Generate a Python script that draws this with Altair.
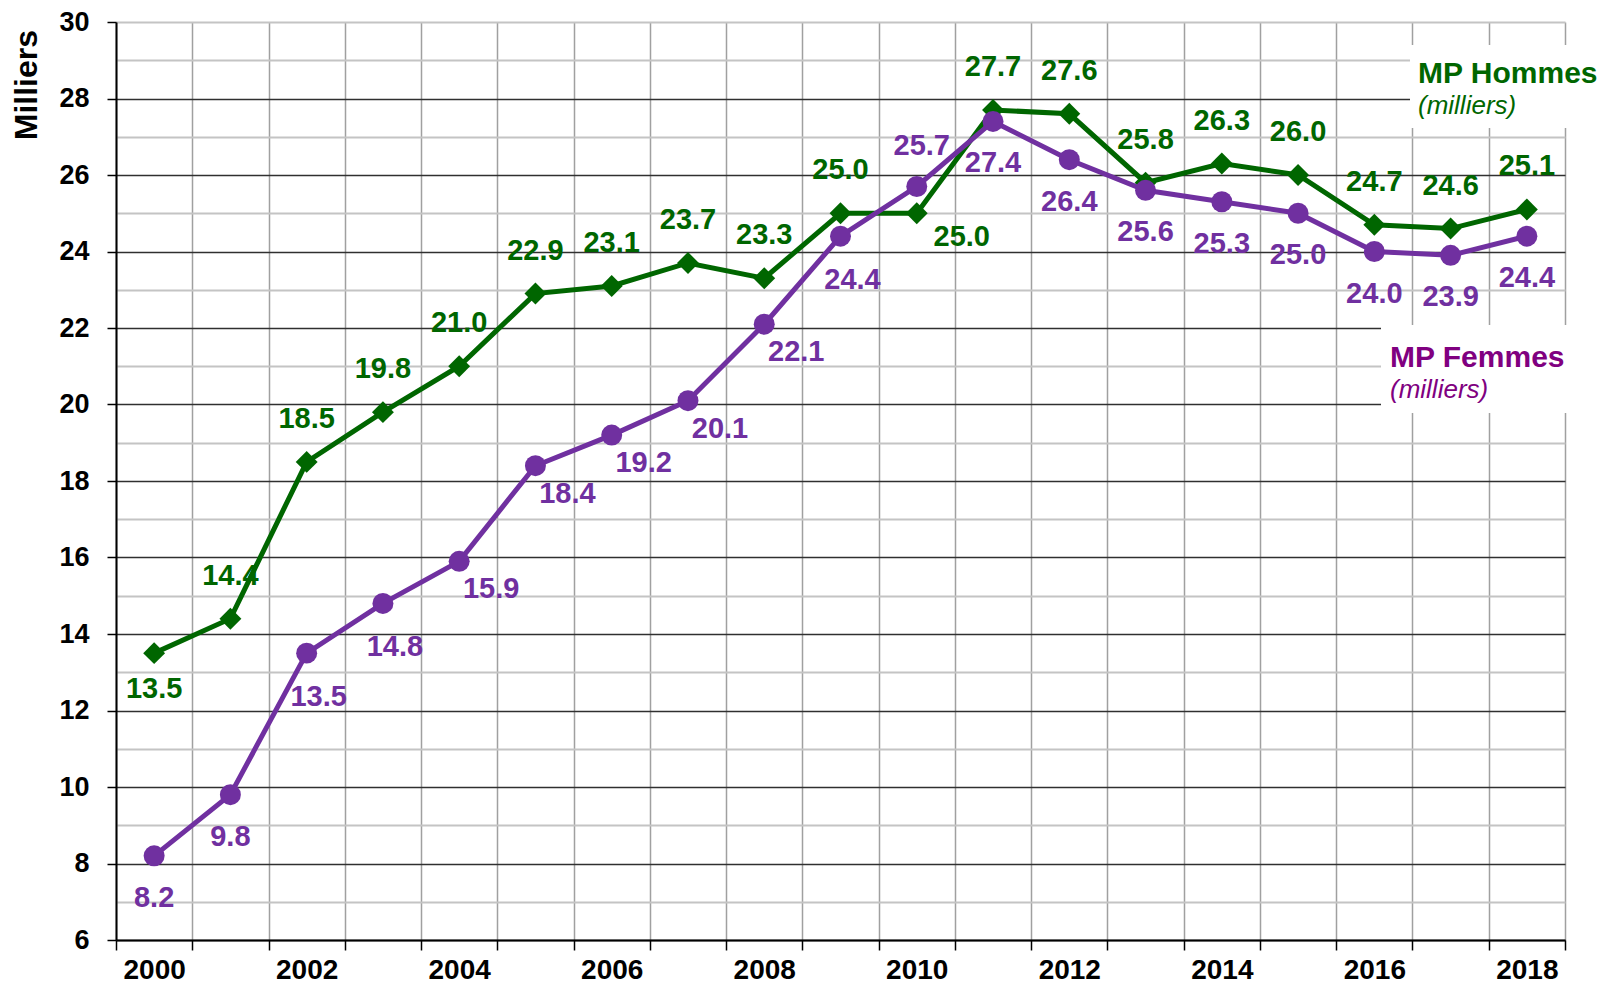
import altair as alt
import pandas as pd

years = list(range(2000, 2019))
hommes = [13.5, 14.4, 18.5, 19.8, 21.0, 22.9, 23.1, 23.7, 23.3, 25.0, 25.0,
          27.7, 27.6, 25.8, 26.3, 26.0, 24.7, 24.6, 25.1]
femmes = [8.2, 9.8, 13.5, 14.8, 15.9, 18.4, 19.2, 20.1, 22.1, 24.4, 25.7,
          27.4, 26.4, 25.6, 25.3, 25.0, 24.0, 23.9, 24.4]

GREEN = "#006600"
PURPLE = "#7030A0"
LEG_PURPLE = "#800080"
LABEL_FONT = "Liberation Sans, Arial, sans-serif"
AXIS_FONT = "Liberation Sans, Arial, sans-serif"

df = pd.DataFrame(
    {"year": years * 2,
     "value": hommes + femmes,
     "serie": ["H"] * len(years) + ["F"] * len(years)}
)

minor_vals = [6 + 0.5 * i for i in range(49)]

x_enc = alt.X(
    "year:O",
    scale=alt.Scale(type="band", paddingInner=0, paddingOuter=0),
    axis=alt.Axis(
        title=None, tickBand="extent", labelAngle=0, labelOverlap=False,
        labelExpr="datum.value % 2 === 0 ? datum.label : ''",
        labelFont=AXIS_FONT, labelFontSize=28, labelFontWeight="bold", labelColor="black",
        labelPadding=6, labelBaseline="top",
        tickSize=10, tickColor="black", tickWidth=1.5,
        domainColor="black", domainWidth=2,
        grid=True, gridColor="#a0a0a0", gridWidth=1.5,
    ),
)

y_enc = alt.Y(
    "value:Q",
    scale=alt.Scale(domain=[6, 30], nice=False, zero=False),
    axis=alt.Axis(
        title=None, values=minor_vals, format="d",
        labelExpr="datum.value % 2 === 0 ? datum.label : ''",
        labelFont=AXIS_FONT, labelFontSize=27, labelFontWeight="bold", labelColor="black",
        labelPadding=18,
        tickSize=9, tickColor="black", tickWidth=1.5,
        tickOpacity={"condition": {"test": "datum.value % 2 === 0", "value": 1}, "value": 0},
        domainColor="black", domainWidth=2,
        gridColor={"condition": {"test": "datum.value % 2 === 0 && datum.value < 30", "value": "#303030"},
                   "value": "#c4c4c4"},
        gridWidth={"condition": {"test": "datum.value % 2 === 0 && datum.value < 30", "value": 1.3},
                   "value": 2},
    ),
)

base = alt.Chart(df).encode(x=x_enc, y=y_enc)


def series(s, color, shape, size):
    d = base.transform_filter(alt.datum.serie == s)
    line = d.mark_line(color=color, strokeWidth=5)
    pts = d.mark_point(shape=shape, filled=True, opacity=1, color=color, size=size)
    return [line, pts]


def labels(s, color, yrs, dx, dy):
    return base.transform_filter(alt.datum.serie == s).transform_filter(
        alt.FieldOneOfPredicate(field="year", oneOf=yrs)
    ).mark_text(
        color=color, font=LABEL_FONT, fontSize=29, fontWeight="bold",
        dx=dx, dy=dy, align="center", baseline="middle"
    ).encode(text=alt.Text("value:Q", format=".1f"))


h_above = [y for y in years if y not in (2000, 2010)]
f_below = [2000, 2001] + list(range(2011, 2019))

layers = []
layers += series("H", GREEN, "diamond", 480)
layers += series("F", PURPLE, "circle", 440)
layers += [
    labels("H", GREEN, h_above, 0, -43),
    labels("H", GREEN, [2000], 0, 36),
    labels("H", GREEN, [2010], 45, 24),
    labels("F", PURPLE, f_below, 0, 42),
    labels("F", PURPLE, [2002, 2003, 2009], 12, 44),
    labels("F", PURPLE, [2004, 2005, 2006, 2007, 2008], 32, 28),
    labels("F", PURPLE, [2010], 5, -40),
]

# legend boxes and texts (annotations)
one = pd.DataFrame({"a": [0]})
box_h = alt.Chart(one).mark_rect(color="white").encode(
    x=alt.value(1294), x2=alt.value(1500), y=alt.value(23), y2=alt.value(106))
box_f = alt.Chart(one).mark_rect(color="white").encode(
    x=alt.value(1265), x2=alt.value(1500), y=alt.value(303), y2=alt.value(391))

leg_texts = ["MP Hommes", "(milliers)", "MP Femmes", "(milliers)"]


def leg_text(txt, color, x, y, size, weight, style):
    return alt.Chart(pd.DataFrame({"t": [txt]})).mark_text(
        color=color, font=AXIS_FONT, fontSize=size, fontWeight=weight, fontStyle=style,
        align="left", baseline="alphabetic"
    ).encode(text="t:N", x=alt.value(x), y=alt.value(y))


leg_layers = [
    box_h, box_f,
    leg_text(leg_texts[0], GREEN, 1302, 61, 30, "bold", "normal"),
    leg_text(leg_texts[1], GREEN, 1302, 92, 26, "normal", "italic"),
    leg_text(leg_texts[2], LEG_PURPLE, 1274, 345, 30, "bold", "normal"),
    leg_text(leg_texts[3], LEG_PURPLE, 1274, 376, 26, "normal", "italic"),
]

ytitle = alt.Chart(pd.DataFrame({"t": ["Milliers"]})).mark_text(
    font=AXIS_FONT, fontSize=32, fontWeight="bold", color="black",
    angle=270, align="right", baseline="middle"
).encode(text="t:N", x=alt.value(-89), y=alt.value(8))

chart = alt.layer(*leg_layers, *layers, ytitle).properties(
    width=1449, height=918,
    autosize=alt.AutoSizeParams(type="none"),
    padding={"left": 108, "top": 14, "right": 36, "bottom": 44},
).configure_view(stroke=None)

chart.save("out.html", embed_options={"renderer": "svg", "actions": False})
